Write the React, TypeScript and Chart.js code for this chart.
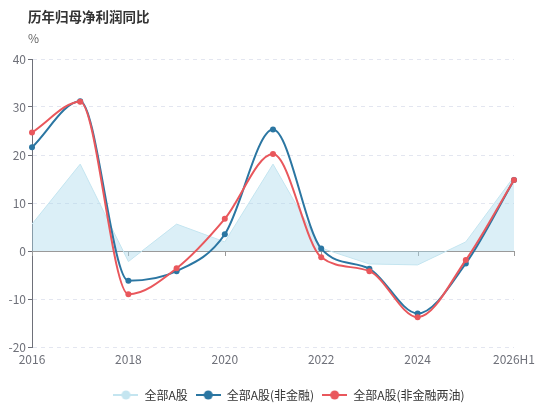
import React, { useEffect, useRef } from "react";
import { Chart, registerables } from "chart.js";

Chart.register(...registerables);

const categories = ["2016", "2017", "2018", "2019", "2020", "2021", "2022", "2023", "2024", "2025", "2026H1"];
const allA = [5.6, 18.1, -2.2, 5.6, 1.9, 18.1, 0.6, -2.7, -2.9, 1.9, 15.5];
const nonFin = [21.6, 31.2, -6.2, -4.2, 3.5, 25.3, 0.5, -3.7, -13.0, -2.6, 14.8];
const nonFinOil = [24.7, 31.1, -9.0, -3.6, 6.7, 20.2, -1.3, -4.2, -13.8, -1.9, 14.8];
const seriesNames = ["全部A股", "全部A股(非金融)", "全部A股(非金融两油)"];
const titleText = "历年归母净利润同比";
const unitText = "%";

const FONT = '"Noto Sans CJK SC", "Noto Sans", sans-serif';
const AREA_LINE = "#c4e5f0";
const AREA_FILL = "rgba(170, 218, 235, 0.42)";
const BLUE = "#2b76a2";
const RED = "#e9575c";

function makeIcon(color: string) {
  const c = document.createElement("canvas");
  c.width = 25;
  c.height = 12;
  const ctx = c.getContext("2d")!;
  ctx.strokeStyle = color;
  ctx.lineWidth = 2;
  ctx.beginPath();
  ctx.moveTo(0, 6);
  ctx.lineTo(25, 6);
  ctx.stroke();
  ctx.fillStyle = color;
  ctx.beginPath();
  ctx.arc(12.5, 6, 4.5, 0, Math.PI * 2);
  ctx.fill();
  return c;
}

const decorPlugin = {
  id: "decor",
  afterLayout(chart: any) {
    const l = chart.legend;
    if (l) {
      l.left += 32;
      l.right += 32;
    }
  },
  afterDraw(chart: any) {
    const { ctx } = chart;
    ctx.save();
    ctx.fillStyle = "#333";
    ctx.font = `bold 13.5px ${FONT}`;
    ctx.textBaseline = "middle";
    ctx.textAlign = "left";
    ctx.fillText(titleText, 28, 17);
    ctx.fillStyle = "#666";
    ctx.font = `12px ${FONT}`;
    ctx.fillText(unitText, 28, 38);
    ctx.restore();
  },
  beforeDatasetsDraw(chart: any) {
    const { ctx, scales } = chart;
    const x = scales.x;
    const y0 = scales.y.getPixelForValue(0);
    ctx.save();
    ctx.strokeStyle = "#999";
    ctx.lineWidth = 1;
    for (let i = 0; i < categories.length; i += 2) {
      const px = Math.round(x.getPixelForValue(i)) + 0.5;
      ctx.beginPath();
      ctx.moveTo(px, y0);
      ctx.lineTo(px, y0 + 5);
      ctx.stroke();
    }
    ctx.restore();
  },
};

export default function App() {
  const ref = useRef<HTMLCanvasElement>(null);
  useEffect(() => {
    const icons = [makeIcon(AREA_LINE), makeIcon(BLUE), makeIcon(RED)];
    const chart = new Chart(ref.current!, {
      type: "line",
      data: {
        labels: categories,
        datasets: [
          {
            label: seriesNames[0],
            data: allA,
            borderColor: AREA_LINE,
            backgroundColor: AREA_FILL,
            borderWidth: 1,
            fill: "origin",
            tension: 0,
            pointRadius: 0,
            order: 3,
          },
          {
            label: seriesNames[1],
            data: nonFin,
            borderColor: BLUE,
            backgroundColor: BLUE,
            borderWidth: 2,
            cubicInterpolationMode: "monotone",
            pointRadius: 3,
            pointBorderWidth: 0,
            fill: false,
            order: 2,
          },
          {
            label: seriesNames[2],
            data: nonFinOil,
            borderColor: RED,
            backgroundColor: RED,
            borderWidth: 2,
            cubicInterpolationMode: "monotone",
            pointRadius: 3,
            pointBorderWidth: 0,
            fill: false,
            order: 1,
          },
        ],
      },
      options: {
        animation: false,
        responsive: false,
        maintainAspectRatio: false,
        layout: { padding: { left: 0, right: 40, top: 59, bottom: -4 } },
        plugins: {
          tooltip: { enabled: false },
          legend: {
            position: "bottom",
            labels: {
              usePointStyle: true,
              pointStyleWidth: 25,
              boxHeight: 12,
              padding: 8,
              color: "#333",
              font: { size: 12, family: FONT },
              sort: (a: any, b: any) => a.datasetIndex - b.datasetIndex,
              generateLabels: (chart: any) =>
                chart.data.datasets.map((ds: any, i: number) => ({
                  text: ds.label,
                  datasetIndex: i,
                  pointStyle: icons[i],
                  fillStyle: ds.borderColor,
                  strokeStyle: ds.borderColor,
                  lineWidth: 0,
                  hidden: false,
                  fontColor: "#333",
                })),
            },
          },
        },
        scales: {
          x: {
            type: "category",
            offset: false,
            grid: { display: false, drawTicks: false },
            border: { display: false },
            ticks: {
              autoSkip: false,
              maxRotation: 0,
              padding: 5,
              color: "#6e7079",
              font: { size: 12, family: FONT },
              callback: (_v: any, i: number) => (i % 2 === 0 ? categories[i] : ""),
            },
            afterFit: (s: any) => {
              s.height = 34;
            },
          },
          y: {
            min: -20,
            max: 40,
            ticks: {
              stepSize: 10,
              padding: 2,
              color: "#6e7079",
              font: { size: 12, family: FONT },
            },
            grid: {
              color: (c: any) => (c.tick && c.tick.value === 0 ? "#9a9a9a" : "#e3e6f0"),
              tickColor: "#6e7079",
              tickLength: 4,
              lineWidth: 1,
            },
            border: {
              display: true,
              color: "#6e7079",
              width: 1,
              dash: (c: any) => (c.tick && c.tick.value === 0 ? [] : [4, 4]),
            },
            afterFit: (s: any) => {
              s.width = 32;
            },
          },
        },
      },
      plugins: [decorPlugin],
    } as any);
    return () => chart.destroy();
  }, []);
  return (
    <div style={{ position: "absolute", left: 0, top: 0, width: 554, height: 407, overflow: "hidden", background: "#fff" }}>
      <canvas ref={ref} width={554} height={407} style={{ width: 554, height: 407, display: "block" }} />
    </div>
  );
}
